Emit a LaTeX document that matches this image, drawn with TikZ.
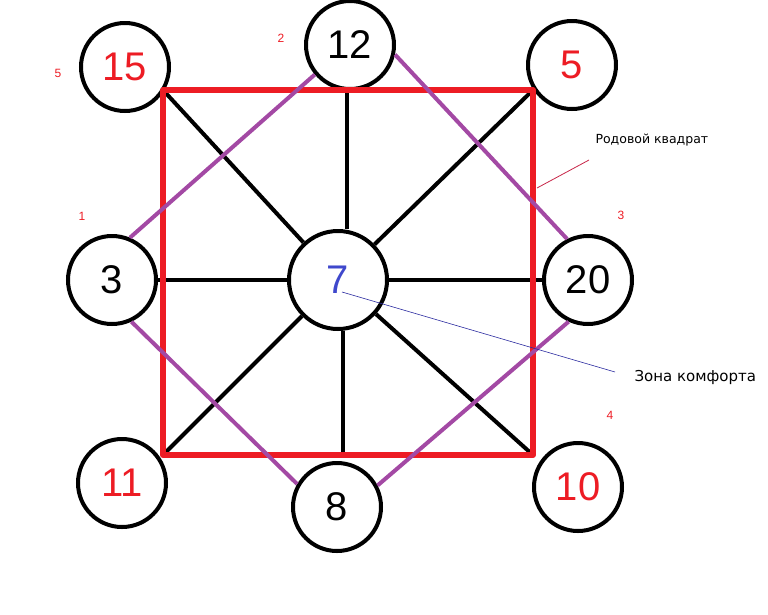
\documentclass[tikz,border=0pt]{standalone}
\usepackage{fontspec}
\setmainfont{Liberation Sans}
\newfontfamily\lblfont{DejaVu Sans}
\usetikzlibrary{backgrounds}
\definecolor{pred}{HTML}{ED1C24}
\definecolor{ppurple}{HTML}{A349A4}
\definecolor{pblue}{HTML}{3F48CC}
\definecolor{pcrimson}{HTML}{C8284A}
\definecolor{pnavy}{HTML}{2B2BA0}
\tikzset{
  num/.style={circle,draw=black,line width=4pt,fill=white,minimum size=88pt,inner sep=0pt,font=\fontsize{40}{40}\selectfont},
  bignum/.style={num,minimum size=98pt},
  spoke/.style={line width=4pt,black},
  sq/.style={line width=6pt,pred,line cap=round,line join=round},
  diag/.style={line width=4pt,ppurple},
  tag/.style={font=\fontsize{12}{12}\selectfont,text=pred},
}
\begin{document}
\begin{tikzpicture}[x=1pt,y=-1pt]
\useasboundingbox (0,0) rectangle (768,614);
% circles
\node[num,text=pred] (c15) at (125,67) {15};
\node[num] (c12) at (350,45) {12};
\node[num,text=pred] (c5) at (572,65) {5};
\node[num] (c3) at (112,280) {3};
\node[bignum,text=pblue] (c7) at (338,280) {7};
\node[num] (c20) at (588,280) {20};
\node[num,text=pred] (c11) at (122,483) {11};
\node[num] (c8) at (337,507) {8};
\node[num,text=pred] (c10) at (578,487) {10};
% square corners
\coordinate (A) at (163,90);
\coordinate (B) at (533,90);
\coordinate (C) at (533,455);
\coordinate (D) at (163,455);
\coordinate (T) at (347,90);
\coordinate (M) at (343,455);
\begin{scope}[on background layer]
  \draw[spoke] (c7) -- (A);
  \draw[spoke] (c7) -- (B);
  \draw[spoke] (c7) -- (C);
  \draw[spoke] (c7) -- (D);
  \draw[spoke] (T) -- (T |- c7.north);
  \draw[spoke] (M) -- (M |- c7.south);
  \draw[spoke] (c3) -- (c7);
  \draw[spoke] (c7) -- (c20);
\end{scope}
\draw[sq] (A) -- (B) -- (C) -- (D) -- cycle;
% purple diagonals
\draw[diag] (c3.67) -- (c12.220);
\draw[diag] (c12.-12) -- (c20.117);
\draw[diag] (c3.-65) -- (c8.150);
\draw[diag] (c8.28) -- (c20.245);
% annotations
\coordinate (r1) at (537,188);
\coordinate (r2) at (589,160);
\draw[pcrimson,line width=0.8pt] (r1) -- (r2);
\node[anchor=west,font=\lblfont\fontsize{12.5}{12.5}\selectfont] (rq) at (592,140) {Родовой квадрат};
\coordinate (b1) at (342,292);
\coordinate (b2) at (615,372);
\draw[pnavy,line width=0.6pt] (b1) -- (b2);
\node[anchor=west,font=\lblfont\fontsize{15}{15}\selectfont] (zk) at (631,377) {Зона комфорта};
% small red numbers
\node[tag] (t5) at (58,73) {5};
\node[tag] (t2) at (281,38) {2};
\node[tag] (t1) at (82,216) {1};
\node[tag] (t3) at (621,215) {3};
\node[tag] (t4) at (610,415) {4};
\end{tikzpicture}
\end{document}
